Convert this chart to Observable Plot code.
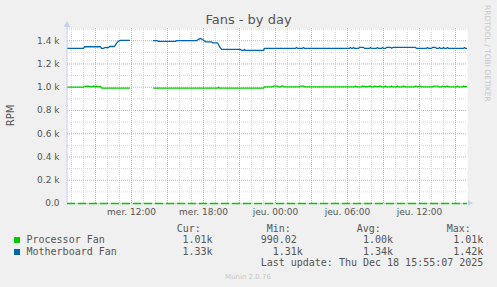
<!DOCTYPE html>
<html>
<head>
<meta charset="utf-8">
<script src="https://cdn.jsdelivr.net/npm/d3@7"></script>
<script src="https://cdn.jsdelivr.net/npm/@observablehq/plot@0.6"></script>
<style>
  html, body { margin: 0; padding: 0; background: #f0f0f0; }
</style>
</head>
<body>
<div id="chart"></div>
<script>
// ---- data ----
const chartTitle = "Fans - by day";
const yLabel = "RPM";
const xDomain = ["2025-12-17T06:40", "2025-12-18T16:00"];
const xTicks = ["2025-12-17T12:00", "2025-12-17T18:00", "2025-12-18T00:00", "2025-12-18T06:00", "2025-12-18T12:00"];
const xTickLabels = ["mer. 12:00", "mer. 18:00", "jeu. 00:00", "jeu. 06:00", "jeu. 12:00"];
const yTicks = [0, 200, 400, 600, 800, 1000, 1200, 1400];
const yTickLabels = ["0.0", "0.2 k", "0.4 k", "0.6 k", "0.8 k", "1.0 k", "1.2 k", "1.4 k"];

const seriesNames = ["Processor Fan", "Motherboard Fan"];
const seriesColors = ["#00cc00", "#0066b3"];
const curValues = ["1.01k", "1.33k"];
const minValues = ["990.02 ", "1.31k"];
const avgValues = ["1.00k", "1.34k"];
const maxValues = ["1.01k", "1.42k"];
const lastUpdate = "Last update: Thu Dec 18 15:55:07 2025";
const footer = "Munin 2.0.76";
const sideNote = "RRDTOOL / TOBI OETIKER";

const processorFan = [
  ["2025-12-17T06:40", 1000], ["2025-12-17T08:00", 1000], ["2025-12-17T08:05", 1008],
  ["2025-12-17T08:25", 1010], ["2025-12-17T08:30", 1005], ["2025-12-17T08:45", 1005],
  ["2025-12-17T08:50", 1010], ["2025-12-17T09:00", 1003], ["2025-12-17T09:05", 1010],
  ["2025-12-17T09:15", 1004], ["2025-12-17T09:25", 1008], ["2025-12-17T09:30", 992],
  ["2025-12-17T11:50", 992], ["2025-12-17T11:55", null],
  ["2025-12-17T13:50", 992], ["2025-12-17T19:10", 992], ["2025-12-17T19:15", 1000],
  ["2025-12-17T19:20", 992], ["2025-12-17T23:00", 992], ["2025-12-17T23:05", 1003],
  ["2025-12-17T23:45", 1003], ["2025-12-17T23:50", 1010], ["2025-12-18T00:10", 1010],
  ["2025-12-18T00:15", 1003], ["2025-12-18T00:25", 1003], ["2025-12-18T00:30", 1010],
  ["2025-12-18T00:40", 1010], ["2025-12-18T00:45", 1003], ["2025-12-18T02:00", 1003],
  ["2025-12-18T02:05", 1010], ["2025-12-18T02:20", 1010], ["2025-12-18T02:25", 1003],
  ["2025-12-18T06:35", 1003], ["2025-12-18T06:40", 1010], ["2025-12-18T06:45", 1003],
  ["2025-12-18T07:10", 1003], ["2025-12-18T07:15", 1010], ["2025-12-18T07:35", 1004],
  ["2025-12-18T07:55", 1010], ["2025-12-18T08:00", 1003], ["2025-12-18T08:10", 1003],
  ["2025-12-18T08:15", 1010], ["2025-12-18T08:30", 1004], ["2025-12-18T08:45", 1010],
  ["2025-12-18T08:50", 1003], ["2025-12-18T09:05", 1003], ["2025-12-18T09:10", 1010],
  ["2025-12-18T09:15", 1003], ["2025-12-18T09:35", 1003], ["2025-12-18T09:40", 1010],
  ["2025-12-18T09:45", 1003], ["2025-12-18T10:05", 1003], ["2025-12-18T10:10", 1010],
  ["2025-12-18T10:15", 1003], ["2025-12-18T10:35", 1003], ["2025-12-18T10:40", 1010],
  ["2025-12-18T10:45", 1003], ["2025-12-18T11:35", 1003], ["2025-12-18T11:40", 1010],
  ["2025-12-18T11:50", 1004], ["2025-12-18T12:05", 1010], ["2025-12-18T12:10", 1003],
  ["2025-12-18T13:05", 1003], ["2025-12-18T13:10", 1010], ["2025-12-18T13:30", 1010],
  ["2025-12-18T13:35", 1003], ["2025-12-18T13:50", 1003], ["2025-12-18T13:55", 1010],
  ["2025-12-18T14:05", 1004], ["2025-12-18T14:20", 1010], ["2025-12-18T14:25", 1003],
  ["2025-12-18T15:05", 1003], ["2025-12-18T15:10", 1010], ["2025-12-18T15:15", 1003],
  ["2025-12-18T15:35", 1003], ["2025-12-18T15:40", 1010], ["2025-12-18T15:45", 1003],
  ["2025-12-18T15:55", 1006]
];

const motherboardFan = [
  ["2025-12-17T06:40", 1334], ["2025-12-17T08:00", 1334], ["2025-12-17T08:05", 1348],
  ["2025-12-17T09:25", 1348], ["2025-12-17T09:30", 1334], ["2025-12-17T09:40", 1334],
  ["2025-12-17T09:45", 1340], ["2025-12-17T10:05", 1340], ["2025-12-17T10:10", 1350],
  ["2025-12-17T10:35", 1350], ["2025-12-17T10:45", 1377], ["2025-12-17T10:55", 1397],
  ["2025-12-17T11:05", 1403], ["2025-12-17T11:50", 1403], ["2025-12-17T11:55", null],
  ["2025-12-17T13:50", 1400], ["2025-12-17T14:10", 1400], ["2025-12-17T14:15", 1394],
  ["2025-12-17T15:40", 1394], ["2025-12-17T15:45", 1400], ["2025-12-17T17:25", 1400],
  ["2025-12-17T17:35", 1412], ["2025-12-17T17:45", 1420], ["2025-12-17T17:55", 1410],
  ["2025-12-17T18:05", 1397], ["2025-12-17T18:10", 1390], ["2025-12-17T18:40", 1390],
  ["2025-12-17T18:45", 1382], ["2025-12-17T19:10", 1382], ["2025-12-17T19:20", 1350],
  ["2025-12-17T19:30", 1325], ["2025-12-17T21:05", 1325], ["2025-12-17T21:10", 1317],
  ["2025-12-17T21:20", 1317], ["2025-12-17T21:25", 1325], ["2025-12-17T21:30", 1317],
  ["2025-12-17T23:00", 1317], ["2025-12-17T23:05", 1334],
  ["2025-12-18T01:40", 1334], ["2025-12-18T01:45", 1342], ["2025-12-18T01:50", 1334],
  ["2025-12-18T02:15", 1334], ["2025-12-18T02:20", 1342], ["2025-12-18T02:25", 1334],
  ["2025-12-18T06:10", 1334], ["2025-12-18T06:15", 1342], ["2025-12-18T06:20", 1334],
  ["2025-12-18T06:25", 1334], ["2025-12-18T06:30", 1342], ["2025-12-18T06:35", 1334],
  ["2025-12-18T06:55", 1334], ["2025-12-18T07:00", 1342], ["2025-12-18T07:20", 1342],
  ["2025-12-18T07:25", 1334], ["2025-12-18T07:50", 1334], ["2025-12-18T07:55", 1342],
  ["2025-12-18T08:00", 1334], ["2025-12-18T08:25", 1334], ["2025-12-18T08:30", 1342],
  ["2025-12-18T08:35", 1334], ["2025-12-18T08:50", 1334], ["2025-12-18T08:55", 1342],
  ["2025-12-18T09:00", 1334], ["2025-12-18T09:10", 1334], ["2025-12-18T09:15", 1342],
  ["2025-12-18T09:35", 1342], ["2025-12-18T09:40", 1336], ["2025-12-18T09:50", 1342],
  ["2025-12-18T11:40", 1342], ["2025-12-18T11:45", 1334], ["2025-12-18T12:35", 1334],
  ["2025-12-18T12:40", 1342], ["2025-12-18T12:45", 1334], ["2025-12-18T13:00", 1334],
  ["2025-12-18T13:05", 1342], ["2025-12-18T13:20", 1342], ["2025-12-18T13:25", 1334],
  ["2025-12-18T13:35", 1334], ["2025-12-18T13:40", 1342], ["2025-12-18T13:45", 1334],
  ["2025-12-18T13:55", 1334], ["2025-12-18T14:00", 1342], ["2025-12-18T14:05", 1334],
  ["2025-12-18T14:15", 1334], ["2025-12-18T14:20", 1342], ["2025-12-18T14:25", 1334],
  ["2025-12-18T15:40", 1334], ["2025-12-18T15:45", 1342], ["2025-12-18T15:50", 1334],
  ["2025-12-18T15:55", 1334]
];

// ---- build ----
const parse = d3.utcParse("%Y-%m-%dT%H:%M");
const toRows = arr => arr.map(([t, v]) => ({t: parse(t), v: v == null ? NaN : v}));
const procRows = toRows(processorFan);
const mbRows = toRows(motherboardFan);
const xDom = xDomain.map(parse);
const xTickDates = xTicks.map(parse);
const xLabelMap = new Map(xTickDates.map((d, i) => [+d, xTickLabels[i]]));
const yLabelMap = new Map(yTicks.map((d, i) => [d, yTickLabels[i]]));

const hours = d3.utcHour.range(xDom[0], xDom[1]);
const hourMinor = hours.filter(d => d.getUTCHours() % 3 !== 0);
const hourMajor = hours.filter(d => d.getUTCHours() % 3 === 0);
const yMinor = d3.range(100, 1600, 200);
const yMajor = d3.range(200, 1500, 200);

const plot = Plot.plot({
  width: 497,
  height: 287,
  marginLeft: 67,
  marginRight: 30,
  marginTop: 28,
  marginBottom: 84,
  style: {background: "#f0f0f0", fontFamily: "DejaVu Sans", fontSize: "9px", color: "#555", overflow: "visible"},
  x: {type: "utc", domain: xDom},
  y: {domain: [0, 1505]},
  marks: [
    Plot.frame({fill: "white", stroke: null}),
    Plot.ruleX(hourMinor, {stroke: "#d8d8d8", strokeDasharray: "1,1"}),
    Plot.ruleY(yMinor, {stroke: "#d8d8d8", strokeDasharray: "1,1"}),
    Plot.ruleX(hourMajor, {stroke: "#f0a0a0", strokeDasharray: "1,1"}),
    Plot.ruleY(yMajor, {stroke: "#f0a0a0", strokeDasharray: "1,1"}),
    Plot.axisX(xTickDates, {tickSize: 0, tickPadding: 5.5, tickFormat: d => xLabelMap.get(+d), fill: "#555", fontSize: 9, label: null}),
    Plot.axisY(yTicks, {tickSize: 0, tickPadding: 8, tickFormat: d => yLabelMap.get(d), fill: "#555", fontSize: 9, label: null}),
    Plot.ruleY([0], {stroke: "#c8d0f0", strokeWidth: 1}),
    Plot.ruleY([0], {stroke: seriesColors[0], strokeWidth: 1.4, strokeDasharray: "8,3"}),
    Plot.line(procRows, {x: "t", y: "v", stroke: seriesColors[0], strokeWidth: 1.3}),
    Plot.line(mbRows, {x: "t", y: "v", stroke: seriesColors[1], strokeWidth: 1.3})
  ]
});

document.getElementById("chart").appendChild(plot);

const svg = d3.select(plot);
const xs = plot.scale("x"), ys = plot.scale("y");
const x0 = xs.apply(xDom[0]), x1 = xs.apply(xDom[1]);
const yBase = ys.apply(0), yTop = ys.apply(1505);

// axis lines and arrows
svg.append("line").attr("x1", x0).attr("x2", x0).attr("y1", yTop - 5).attr("y2", yBase)
  .attr("stroke", "#c8d0f0").attr("stroke-width", 1);
svg.append("path").attr("d", `M${x0 - 3.5},${yTop - 1}L${x0 + 3.5},${yTop - 1}L${x0},${yTop - 7}Z`).attr("fill", "#c8d0f0");
svg.append("line").attr("x1", x1).attr("x2", x1 + 2).attr("y1", yBase).attr("y2", yBase)
  .attr("stroke", "#c8d0f0").attr("stroke-width", 1);
svg.append("path").attr("d", `M${x1 + 1},${yBase - 3}L${x1 + 1},${yBase + 3}L${x1 + 6},${yBase}Z`).attr("fill", "#c8d0f0");

// title
svg.append("text").attr("x", 248.5).attr("y", 24).attr("text-anchor", "middle")
  .attr("font-family", "DejaVu Sans").attr("font-size", 13).attr("fill", "#555").text(chartTitle);

// y label
svg.append("text").attr("transform", `translate(14,${(yTop + yBase) / 2}) rotate(-90)`)
  .attr("text-anchor", "middle").attr("font-family", "DejaVu Sans").attr("font-size", 10)
  .attr("fill", "#555").text(yLabel);

// side note
svg.append("text").attr("transform", "translate(485,5) rotate(90)")
  .attr("text-anchor", "start").attr("font-family", "DejaVu Sans").attr("font-size", 7.5)
  .attr("fill", "#c8c8c8").text(sideNote);

// legend
const mono = "DejaVu Sans Mono";
const headers = ["Cur:", "Min:", "Avg:", "Max:"];
const headerX = [176.7, 266.7, 356.7, 446.7];
const colEnd = [212.5, 302.8, 393.1, 483.4];
const cols = [curValues, minValues, avgValues, maxValues];
const leg = svg.append("g").attr("font-family", mono).attr("font-size", 10).attr("fill", "#555")
  .attr("text-anchor", "start").attr("style", "white-space: pre");
headers.forEach((h, i) => leg.append("text").attr("x", headerX[i]).attr("y", 232).attr("text-anchor", "start").text(h));
seriesNames.forEach((name, r) => {
  const by = 243 + r * 12;
  svg.append("rect").attr("x", 14).attr("y", by - 6).attr("width", 6).attr("height", 6).attr("fill", seriesColors[r]);
  leg.append("text").attr("x", 26.5).attr("y", by).attr("text-anchor", "start").text(name);
  cols.forEach((c, i) => leg.append("text").attr("x", colEnd[i]).attr("y", by).attr("text-anchor", "end").text(c[r]));
});
leg.append("text").attr("x", 483.4).attr("y", 266).attr("text-anchor", "end").text(lastUpdate);
svg.append("text").attr("x", 248).attr("y", 279).attr("text-anchor", "middle")
  .attr("font-family", "DejaVu Sans").attr("font-size", 7).attr("fill", "#c8c8c8").text(footer);
</script>
</body>
</html>
